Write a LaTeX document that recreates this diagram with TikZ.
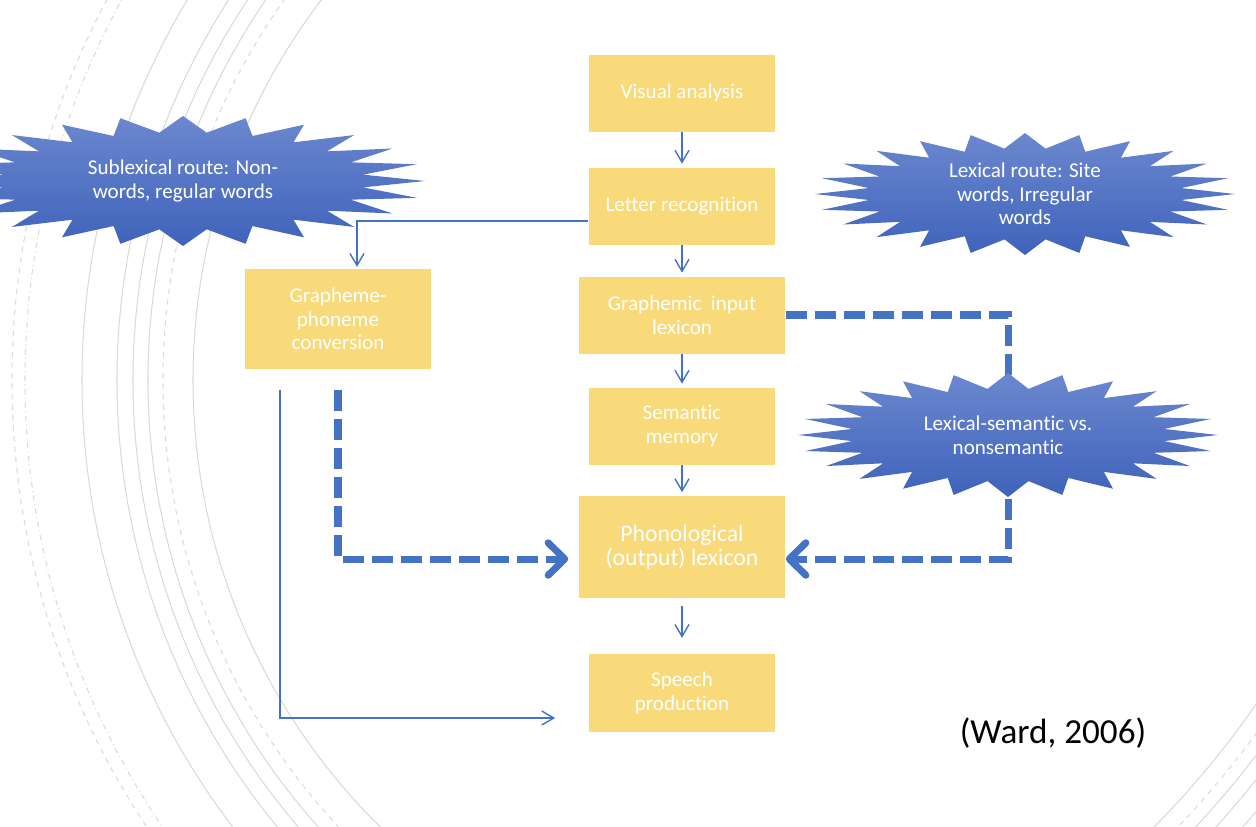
\documentclass[tikz,border=0pt]{standalone}
\usepackage{fontspec}
\setmainfont{Carlito}[Ligatures=CommonOff]
\usetikzlibrary{arrows.meta}

\definecolor{boxgold}{HTML}{F8DA7A}
\definecolor{linkblue}{HTML}{4472C4}
\definecolor{burstlight}{HTML}{6B87CE}
\definecolor{burstdark}{HTML}{3F63BB}
\definecolor{ringgray}{HTML}{D9D9D9}

% 24-point burst: name, x, y, rx, ry, text
\newcommand{\burst}[6]{%
  \shade[top color=burstlight, bottom color=burstdark]
    ({#2+#4},#3) \foreach \k [evaluate=\k as \f using {1-0.25*mod(\k,2)}] in {1,...,47} {
      -- ({#2+\f*#4*cos(7.5*\k)},{#3+\f*#5*sin(7.5*\k)})
    } -- cycle;
  \node[bursttext] (#1) at (#2,#3) {#6};
}

\begin{document}
\begin{tikzpicture}[
    x=0.02cm, y=-0.02cm,
    stage/.style={fill=boxgold, text=white, align=center, inner sep=2pt,
      minimum width=3.74cm, minimum height=1.54cm, font=\fontsize{12}{13.5}\selectfont},
    wide/.style={minimum width=4.14cm},
    bursttext/.style={text=white, align=center, font=\fontsize{12}{13.5}\selectfont},
    flow/.style={draw=linkblue, line width=0.8pt, -{Straight Barb[length=2.4mm,width=2.8mm]}},
    route/.style={draw=linkblue, line width=4pt, dash pattern=on 12pt off 4.5pt,
      -{Straight Barb[length=3.3mm,width=6.5mm,round]}},
    ring/.style={draw=ringgray, line width=0.6pt}
]
\useasboundingbox (0,0) rectangle (1256,826);

% Background rings
\begin{scope}
  \clip (0,0) rectangle (1256,826);
  \foreach \r in {738,703,687,672,627} \draw[ring] (820,380) circle (\r);
  \draw[ring, dashed] (820,380) circle (808);
  \draw[ring, dash dot] (820,380) circle (795);
  \draw[ring, dashed] (820,380) circle (657);
  \foreach \r in {920,950,965,985} \draw[ring] (500,180) circle (\r);
  \draw[ring, dashed] (500,180) circle (937);
\end{scope}

% Stages (central column)
\node[stage] (va) at (682,93) {Visual analysis};
\node[stage] (lr) at (682,206) {Letter recognition};
\node[stage, wide] (gil) at (682,315) {Graphemic~ input\\lexicon};
\node[stage] (sm) at (682,426) {Semantic\\memory};
\node[stage, wide, minimum height=2.04cm, font=\fontsize{13.5}{14}\selectfont] (pl) at (682,547) {Phonological\\(output) lexicon};
\node[stage, minimum height=1.56cm] (sp) at (682,693) {Speech\\production};

% Sublexical stage
\node[stage, minimum height=2cm] (gpc) at (338,319) {Grapheme-\\phoneme\\conversion};

% Thick dashed routes (behind the bursts)
\draw[route] ([yshift=-0.42cm]gpc.south) |- ([xshift=-0.2cm,yshift=-0.24cm]pl.west);
\draw[route] (gil.east) -| (1008,435) |- ([yshift=-0.24cm]pl.east);

% Bursts
\burst{sublex}{183}{181}{242}{65}{Sublexical route: Non-\\words, regular words}
\burst{lexroute}{1025}{194}{210}{61}{Lexical route: Site\\words, Irregular\\words}
\burst{lexsem}{1008}{435}{210}{62}{Lexical-semantic vs.\\nonsemantic}

% Thin arrows
\foreach \a/\b in {va/lr, lr/gil, gil/sm, sm/pl}
  \draw[flow, shorten >=2pt] (\a.south) -- (\b.north);
\draw[flow, shorten <=4.5pt, shorten >=9pt] (pl.south) -- (sp.north);
\draw[flow, shorten >=1pt] ([yshift=-0.3cm]lr.west) -| ([xshift=0.38cm]gpc.north);
\draw[flow] ([xshift=-1.16cm,yshift=-0.42cm]gpc.south) |- ([xshift=-0.66cm,yshift=-0.5cm]sp.west);

% Citation
\node[font=\fontsize{20}{24}\selectfont] (cite) at (1053,733) {(Ward, 2006)};

\end{tikzpicture}
\end{document}
